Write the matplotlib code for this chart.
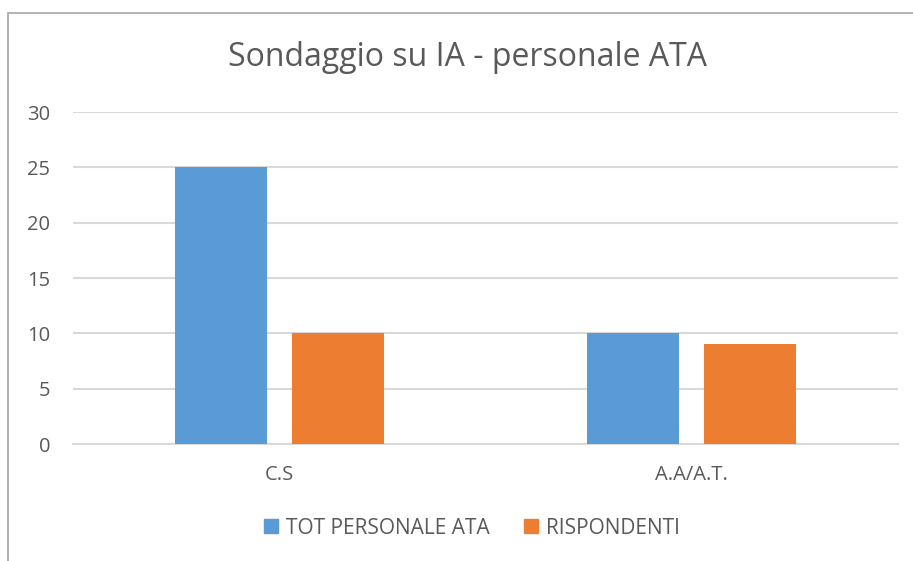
import matplotlib
matplotlib.use("Agg")
import matplotlib.pyplot as plt
from matplotlib.patches import Rectangle, Patch
import numpy as np

categories = ["C.S", "A.A/A.T."]
tot_personale = [25, 10]
rispondenti = [10, 9]
series_names = ["TOT PERSONALE ATA", "RISPONDENTI"]
yticks = [0, 5, 10, 15, 20, 25, 30]

W, H = 913, 561
fig = plt.figure(figsize=(W/100, H/100), dpi=100)
plt.rcParams['font.family'] = ['Open Sans', 'DejaVu Sans']
txt = '#595959'

# outer chart border (extends past right/bottom edges)
fig.patches.append(Rectangle((8/W, -0.1), 1.2, 1 - 13/H + 0.1, transform=fig.transFigure,
                             fill=False, edgecolor='#a6a6a6', linewidth=1.2))

ax = fig.add_axes([73/W, 1 - 444/H, (898-73)/W, (444-112)/H])
x = np.arange(len(categories))
w = 0.223
off = 0.1415
ax.bar(x - off, tot_personale, w, color='#5b9bd5', label=series_names[0], zorder=3)
ax.bar(x + off, rispondenti, w, color='#ed7d31', label=series_names[1], zorder=3)

ax.set_xlim(-0.5, 1.5)
ax.set_ylim(0, 30)
ax.set_yticks(yticks)
ax.set_xticks(x)
ax.set_xticklabels(categories)
ax.grid(axis='y', color='#d9d9d9', linewidth=1.5, zorder=0)
for s in ['top', 'right', 'left']:
    ax.spines[s].set_visible(False)
ax.spines['bottom'].set_color('#d9d9d9')
ax.spines['bottom'].set_linewidth(1.5)
ax.tick_params(axis='both', length=0, labelsize=14.5, colors=txt)
ax.tick_params(axis='y', pad=16.5)
ax.tick_params(axis='x', pad=15)

fig.text(468/W, 1 - 57/H, "Sondaggio su IA - personale ATA", ha='center', va='center',
         fontsize=23, color=txt)

handles = [Patch(color='#5b9bd5'), Patch(color='#ed7d31')]
fig.legend(handles, series_names, loc='center', bbox_to_anchor=(472/W, 1 - 528/H),
           ncol=2, frameon=False, fontsize=15, labelcolor=txt, handlelength=0.67,
           handleheight=0.67, handletextpad=0.4, columnspacing=1.6)

fig.savefig("out.png", dpi=100, facecolor='white')
